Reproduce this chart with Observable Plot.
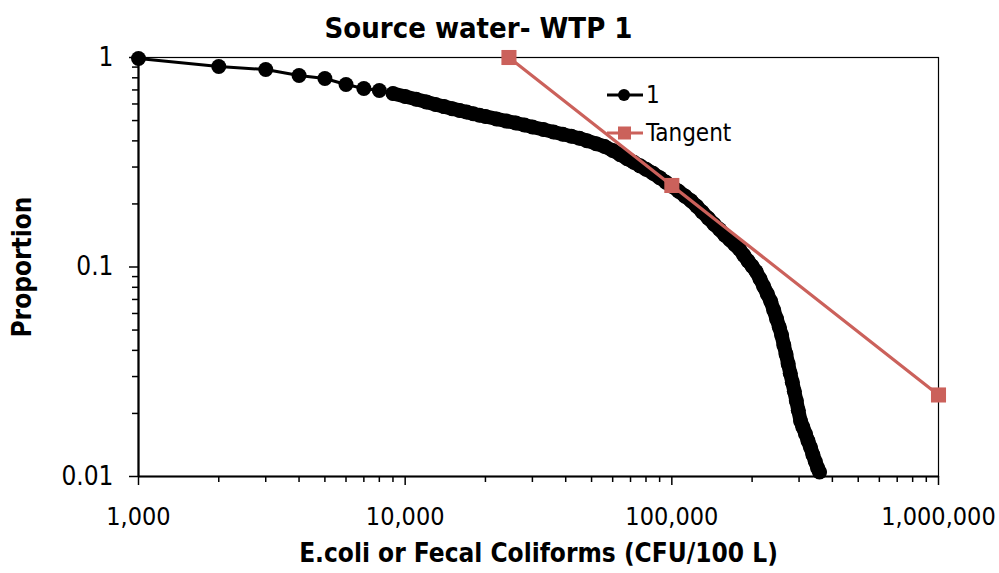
<!DOCTYPE html>
<html><head><meta charset="utf-8">
<script src="https://cdn.jsdelivr.net/npm/d3@7"></script>
<script src="https://cdn.jsdelivr.net/npm/@observablehq/plot@0.6"></script>
<style>
body{margin:0;background:#fff}
#chart{position:relative;width:999px;height:573px}
</style>
</head><body><div id="chart"></div>
<script>
// Series "1": E.coli / fecal coliform concentration (CFU/100 L) vs exceedance proportion
const counts = [1000,2000,3000,4000,5000,6000,7000,8000,9000,10000,
  11000,12000,13000,14000,15000,16000,17000,18000,19000,20000,
  22000,24000,26000,28000,30000,33000,36000,39000,42000,45000,
  48000,52000,56000,60000,64000,68000,72000,76000,80000,85000,
  90000,95000,100000,106000,112000,118000,124000,130000,137000,144000,
  151000,158000,165000,172000,179000,186000,193000,200000,207000,214000,
  221000,228000,235000,241000,247000,253000,258000,263000,268000,273000,
  278000,283000,288000,293000,298000,304000,310000,317000,324000,331000,
  338000,345000,352000,358000];
const proportion = [0.989,0.906,0.876,0.821,0.794,0.743,0.711,0.696,0.673,0.651,
  0.632,0.614,0.597,0.583,0.570,0.559,0.549,0.539,0.530,0.523,
  0.509,0.497,0.487,0.476,0.466,0.453,0.441,0.430,0.421,0.412,
  0.401,0.388,0.376,0.360,0.344,0.329,0.316,0.304,0.293,0.280,
  0.267,0.254,0.243,0.230,0.218,0.207,0.195,0.183,0.171,0.160,
  0.151,0.142,0.135,0.128,0.122,0.114,0.107,0.101,0.0951,0.0879,
  0.0808,0.0744,0.0685,0.0623,0.0566,0.0516,0.0473,0.0424,0.0384,0.0345,
  0.0311,0.0282,0.0255,0.0230,0.0207,0.0184,0.0172,0.0160,0.0148,0.0138,
  0.0127,0.0118,0.0110,0.0105];
// Series "Tangent"
const tangentX = [24500, 100000, 1000000];
const tangentY = [1, 0.245, 0.0245];
// Axis ticks
const xMajor = [1000, 10000, 100000, 1000000];
const yMajor = [0.01, 0.1, 1];
const multipliers = [2,3,4,5,6,7,8,9];
const xMinor = [1000, 10000, 100000].flatMap(d => multipliers.map(m => d * m));
const yMinor = [0.01, 0.1].flatMap(d => multipliers.map(m => +(d * m).toFixed(3)));

const title = "Source water- WTP 1";
const xLabel = "E.coli or Fecal Coliforms (CFU/100 L)";
const yLabel = "Proportion";
const seriesNames = ["1", "Tangent"];

const series1 = counts.map((c, i) => ({x: c, y: proportion[i]}));
const dense1 = series1.filter(d => d.x >= 9000);
const tangent = tangentX.map((c, i) => ({x: c, y: tangentY[i]}));

const RED = "#CB615B";
const FONT = '"Liberation Sans Narrow","DejaVu Sans Condensed","Arial Narrow",Lato,sans-serif';
const W = 999, H = 573, ML = 138, MR = 61, MT = 57, MB = 97;

const plot = Plot.plot({
  width: W, height: H,
  marginLeft: ML, marginRight: MR, marginTop: MT, marginBottom: MB,
  style: {fontFamily: FONT, fontSize: "26px", color: "#000", background: "#fff", overflow: "visible"},
  x: {type: "log", domain: [1000, 1000000]},
  y: {type: "log", domain: [0.01, 1]},
  marks: [
    Plot.frame({stroke: "#000", strokeWidth: 1.2}),
    Plot.axisX({ticks: xMinor, tickSize: 6, tickFormat: null, text: null, label: null, strokeWidth: 1.5}),
    Plot.axisX({ticks: xMajor, tickSize: 9, tickPadding: 22, tickFormat: d3.format(","), label: null, strokeWidth: 1.5, fontSize: 25}),
    Plot.axisY({ticks: yMinor, tickSize: 6, text: null, label: null, strokeWidth: 1.5}),
    Plot.axisY({ticks: yMajor, tickSize: 9, tickPadding: 16, tickFormat: d => String(d), label: null, strokeWidth: 1.5, fontSize: 26}),
    Plot.ruleX([1000], {stroke: "#000", strokeWidth: 2.2}),
    Plot.ruleY([0.01], {stroke: "#000", strokeWidth: 2.2}),
    Plot.line(series1, {x: "x", y: "y", stroke: "#000", strokeWidth: 3}),
    Plot.line(dense1, {x: "x", y: "y", stroke: "#000", strokeWidth: 14, strokeLinejoin: "round", strokeLinecap: "round"}),
    Plot.dot(series1, {x: "x", y: "y", r: 7.5, fill: "#000", stroke: "none"}),
    Plot.line(tangent, {x: "x", y: "y", stroke: RED, strokeWidth: 3.2}),
    Plot.dot(tangent, {x: "x", y: "y", r: 8.5, symbol: "square", fill: RED, stroke: "none"}),
    Plot.text([title], {frameAnchor: "top", dx: -60, dy: -29, lineAnchor: "middle", fontSize: 29, fontWeight: "bold", fill: "#000"}),
    Plot.text([xLabel], {frameAnchor: "bottom", dy: 77, lineAnchor: "middle", fontSize: 26, fontWeight: "bold", fill: "#000"}),
    Plot.text([yLabel], {frameAnchor: "left", dx: -116, rotate: -90, textAnchor: "middle", lineAnchor: "middle", fontSize: 26, fontWeight: "bold", fill: "#000"})
  ]
});
document.getElementById("chart").appendChild(plot);

// Legend (inside the plot area)
const svg = d3.select(plot);
const lg = svg.append("g").attr("font-family", FONT).attr("font-size", 24).attr("text-anchor", "start");
const rows = [
  {name: seriesNames[0], y: 95, color: "#000", shape: "circle"},
  {name: seriesNames[1], y: 133, color: RED, shape: "square"}
];
rows.forEach(r => {
  lg.append("line").attr("x1", 607).attr("x2", 643).attr("y1", r.y).attr("y2", r.y)
    .attr("stroke", r.color).attr("stroke-width", 3);
  if (r.shape === "circle") lg.append("circle").attr("cx", 624).attr("cy", r.y).attr("r", 6).attr("fill", r.color);
  else lg.append("rect").attr("x", 618).attr("y", r.y - 6.5).attr("width", 13).attr("height", 13).attr("fill", r.color);
  lg.append("text").attr("x", 646).attr("y", r.y).attr("dy", "0.35em").attr("text-anchor", "start").attr("fill", "#000").text(r.name);
});
</script>
</body></html>
